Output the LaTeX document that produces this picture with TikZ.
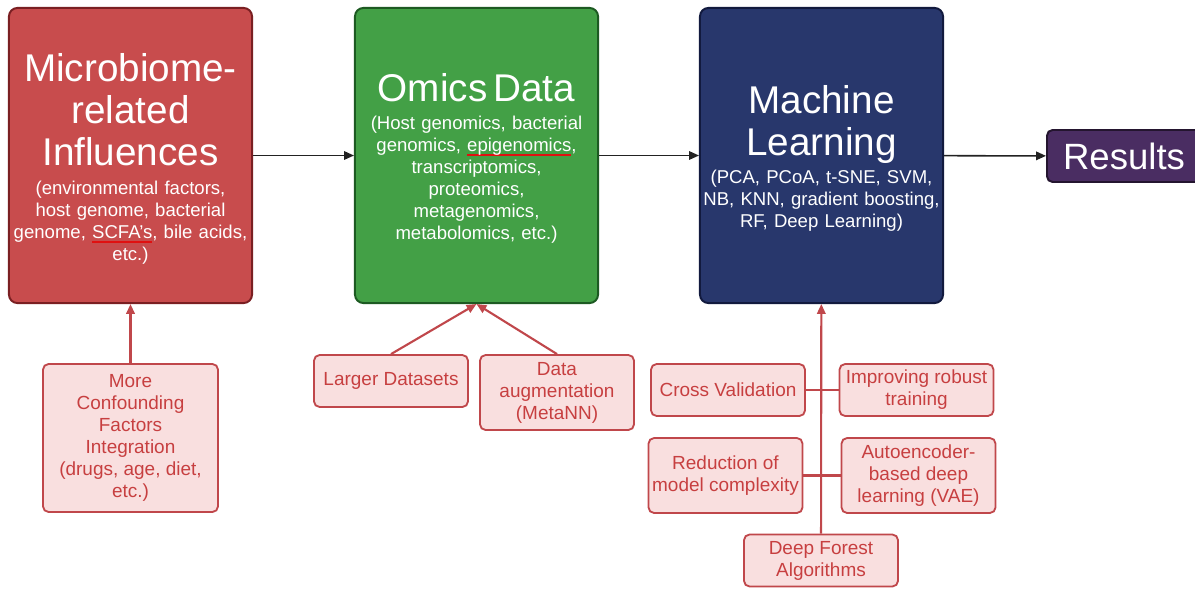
\documentclass[tikz,border=0pt]{standalone}
\usepackage{fontspec}
\setmainfont{Liberation Sans}
\usetikzlibrary{arrows.meta}

\definecolor{microred}{HTML}{C84C4D}
\definecolor{microline}{HTML}{7A1F22}
\definecolor{omicsgreen}{HTML}{43A046}
\definecolor{omicsline}{HTML}{1D5A22}
\definecolor{mlnavy}{HTML}{28376C}
\definecolor{mlline}{HTML}{121A3E}
\definecolor{respurple}{HTML}{4A2D62}
\definecolor{resline}{HTML}{24152F}
\definecolor{boxfill}{HTML}{F9DFDF}
\definecolor{boxline}{HTML}{C0474B}
\definecolor{boxtext}{HTML}{C73F40}
\definecolor{flowblack}{HTML}{222222}
\definecolor{spellred}{HTML}{E01010}

\newcommand\titlefont{\fontsize{27.5}{30}\selectfont}
\newcommand\subfont{\fontsize{13.2}{15.6}\selectfont}
\newcommand\hintfont{\fontsize{13.5}{15.6}\selectfont}
\newsavebox\spellbox
\newcommand\spellmark[1]{\sbox\spellbox{#1}\rlap{\color{spellred}\rule[-3.2pt]{\wd\spellbox}{1.3pt}}\usebox\spellbox}

\begin{document}
\begin{tikzpicture}[x=0.025cm,y=-0.025cm,>={Triangle[length=7pt,width=6pt]},
    big box/.style={draw,line width=1.4pt,rounded corners=6pt,
                    minimum width=6.075cm,minimum height=7.375cm},
    big text/.style={text=white,text width=7cm,align=center,font=\subfont},
    small box/.style={draw=boxline,fill=boxfill,line width=1.3pt,rounded corners=4pt,
                      text=boxtext,align=center,font=\hintfont,inner sep=0pt,
                      minimum width=3.85cm,minimum height=1.3cm},
    tall/.style={minimum height=1.875cm},
    flow/.style={->,draw=flowblack,line width=1.1pt},
    hint/.style={->,draw=boxline,line width=1.5pt}]

  \useasboundingbox (0,0) rectangle (1195,592);

  % main pipeline
  \node[big box,fill=microred,draw=microline] (micro) at (130.5,155.5) {};
  \node[big box,fill=omicsgreen,draw=omicsline] (omics) at (476.5,155.5) {};
  \node[big box,fill=mlnavy,draw=mlline] (ml) at (821.5,155.5) {};
  \node[draw=resline,fill=respurple,line width=1.4pt,rounded corners=4pt,text=white,
        font=\fontsize{26}{30}\selectfont,anchor=west,minimum width=3.85cm,minimum height=1.3cm] (res) at (1046,156) {Results};

  \node[big text] (micro-text) at (130.5,159) {{\titlefont Microbiome-\\related\\Influences\par}\vspace{5pt}
    (environmental factors,\\host genome, bacterial\\genome, \spellmark{SCFA's}, bile acids,\\etc.)};
  \node[big text] (omics-text) at (476.5,158.5) {{\titlefont Omics Data\par}\vspace{4.5pt}
    (Host genomics, bacterial\\genomics, \spellmark{epigenomics},\\transcriptomics,\\proteomics,\\metagenomics,\\metabolomics, etc.)};
  \node[big text] (ml-text) at (821.5,158.5) {{\titlefont Machine\\Learning\par}\vspace{4.5pt}
    (PCA, PCoA, t-SNE, SVM,\\NB, KNN, gradient boosting,\\RF, Deep Learning)};

  \draw[flow] (micro) -- (omics);
  \draw[flow] (omics) -- (ml);
  \draw[flow] (ml) -- (res);

  % improvements
  \node[small box,minimum width=4.375cm,minimum height=3.7cm] (conf) at (130.5,438)
    {More\\Confounding\\Factors\\Integration\\(drugs, age, diet,\\etc.)};
  \node[small box] (larger) at (391,381) {Larger Datasets};
  \node[small box,tall] (augment) at (557,392.5) {Data\\augmentation\\(MetaNN)};
  \node[small box] (crossval) at (728,390) {Cross Validation};
  \node[small box] (robust) at (916.5,390) {Improving robust\\training};
  \node[small box,tall] (reduce) at (725.5,475.5) {Reduction of\\model complexity};
  \node[small box,tall] (vae) at (918.5,475.5) {Autoencoder-\\based deep\\learning (VAE)};
  \node[small box] (forest) at (821,560.5) {Deep Forest\\Algorithms};

  \draw[hint] (conf) -- (micro);
  \draw[hint] (larger.north) -- (omics.south);
  \draw[hint] (augment.north) -- (omics.south);
  \draw[hint] (forest) -- (ml);
  \draw[draw=boxline,line width=1.5pt] (crossval) -- (robust);
  \draw[draw=boxline,line width=1.5pt] (reduce) -- (vae);

\end{tikzpicture}
\end{document}
